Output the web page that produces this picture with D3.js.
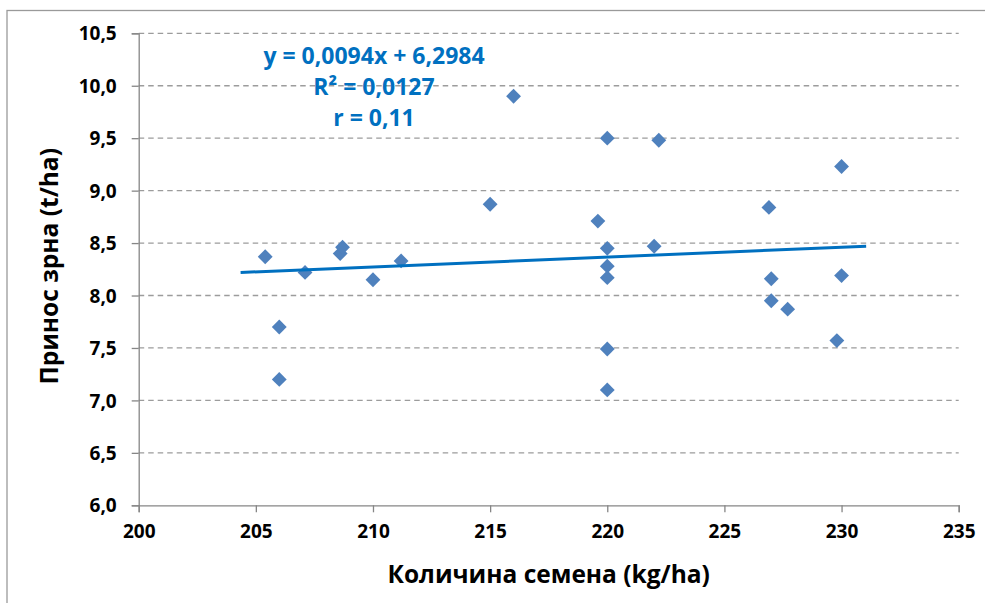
<!DOCTYPE html>
<html><head><meta charset="utf-8">
<script src="https://cdn.jsdelivr.net/npm/d3@7"></script>
<style>body{margin:0;background:#fff}svg{display:block}text{font-family:'Open Sans',Lato,sans-serif;font-weight:bold}</style>
</head><body>
<script>
// Data
const seedRate = [205.4, 206.0, 206.0, 207.1, 208.6, 208.7, 210.0, 211.2, 215.0, 216.0, 219.6, 220.0, 220.0, 220.0, 220.0, 220.0, 220.0, 222.0, 222.2, 226.9, 227.0, 227.0, 227.7, 229.8, 230.0, 230.0];
const grainYield = [8.37, 7.70, 7.20, 8.22, 8.40, 8.46, 8.15, 8.33, 8.87, 9.90, 8.71, 9.50, 8.45, 8.28, 8.17, 7.49, 7.10, 8.47, 9.48, 8.84, 8.16, 7.95, 7.87, 7.57, 9.23, 8.19];
const trendSlope = 0.0094, trendIntercept = 6.2984;
const trendRange = [204.35, 231.05];
const xTicks = [200, 205, 210, 215, 220, 225, 230, 235];
const yTicks = [6.0, 6.5, 7.0, 7.5, 8.0, 8.5, 9.0, 9.5, 10.0, 10.5];
const eqLines = ["y = 0,0094x + 6,2984", "R² = 0,0127", "r = 0,11"];
const xTitle = "Количина семена (kg/ha)";
const yTitle = "Принос зрна (t/ha)";

const W = 985, H = 603;
const svg = d3.select("body").append("svg").attr("width", W).attr("height", H);
// outer chart border
svg.append("rect").attr("x", 7).attr("y", 10.5).attr("width", W + 10).attr("height", H + 10)
  .attr("fill", "none").attr("stroke", "#9a9a9a").attr("stroke-width", 1.3);

const x = d3.scaleLinear().domain([200, 235]).range([138.7, 958.7]);
const y = d3.scaleLinear().domain([6, 10.5]).range([505.3, 33.3]);
const fmt = v => d3.format(".1f")(v).replace(".", ",");

// gridlines
svg.append("g").selectAll("line").data(yTicks.filter(v => v > 6)).join("line")
  .attr("x1", x(200)).attr("x2", x(235)).attr("y1", d => y(d)).attr("y2", d => y(d))
  .attr("stroke", "#9c9c9c").attr("stroke-width", 1.3).attr("stroke-dasharray", "5.5,4");

// axes
const xAxis = svg.append("g").attr("transform", `translate(0,${y(6)})`)
  .call(d3.axisBottom(x).tickValues(xTicks).tickSize(7).tickPadding(12).tickFormat(d3.format("d")));
const yAxis = svg.append("g").attr("transform", `translate(${x(200)},0)`)
  .call(d3.axisLeft(y).tickValues(yTicks).tickSize(7).tickPadding(15).tickFormat(fmt));
[xAxis, yAxis].forEach(g => {
  g.select(".domain").attr("stroke", "#868686").attr("stroke-width", 1.3);
  g.selectAll(".tick line").attr("stroke", "#868686").attr("stroke-width", 1.3);
  g.selectAll(".tick text").attr("fill", "#000").style("font-size", "19px").style("font-family", "'Open Sans',sans-serif").style("font-weight", "bold");
});
yAxis.selectAll(".tick text").attr("dy", "0.35em");

// points
svg.append("g").selectAll("path").data(seedRate.map((s, i) => [s, grainYield[i]])).join("path")
  .attr("d", d3.symbol(d3.symbolSquare, 110)())
  .attr("transform", d => `translate(${x(d[0])},${y(d[1])}) rotate(45)`)
  .attr("fill", "#4F81BD");

// trendline
svg.append("path").datum(trendRange.map(v => [v, trendSlope * v + trendIntercept]))
  .attr("d", d3.line().x(d => x(d[0])).y(d => y(d[1])))
  .attr("stroke", "#0070C0").attr("stroke-width", 3).attr("fill", "none");

// equation
svg.append("g").selectAll("text").data(eqLines).join("text")
  .attr("x", 374).attr("y", (d, i) => 64 + i * 31).attr("text-anchor", "middle")
  .attr("fill", "#0070C0").style("font-size", "23px").text(d => d);

// titles
svg.append("text").attr("x", x(217.5)).attr("y", 583).attr("text-anchor", "middle")
  .style("font-size", "24.5px").attr("fill", "#000").text(xTitle);
svg.append("text").attr("transform", `translate(58,${(y(6) + y(10.5)) / 2 - 3}) rotate(-90)`)
  .attr("text-anchor", "middle").style("font-size", "24.5px").attr("fill", "#000").text(yTitle);
</script>
</body></html>
